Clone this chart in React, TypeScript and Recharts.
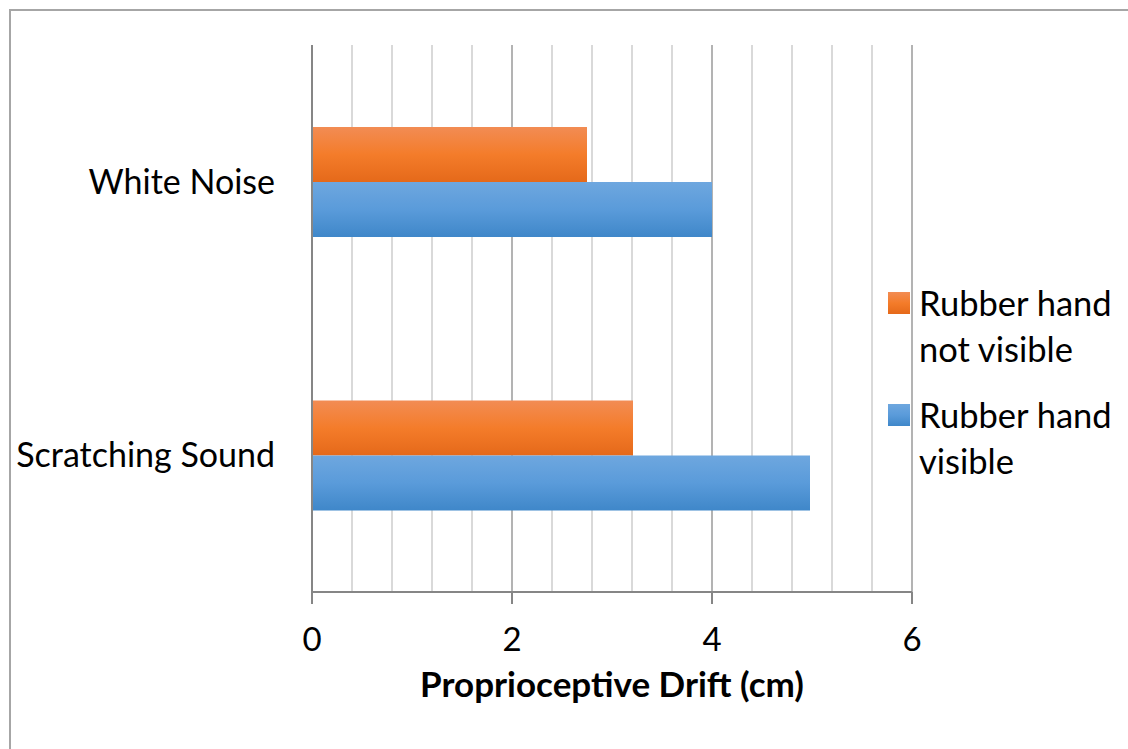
import React from 'react';
import {
  BarChart, Bar, XAxis, YAxis, CartesianGrid, Legend,
} from 'recharts';

const categories = ['White Noise', 'Scratching Sound'];
const notVisible = [2.75, 3.21];
const visible = [4.0, 4.98];
const majorTicks = [0, 2, 4, 6];
const minorTicks = [0, 0.4, 0.8, 1.2, 1.6, 2, 2.4, 2.8, 3.2, 3.6, 4, 4.4, 4.8, 5.2, 5.6, 6];
const seriesNames = ['Rubber hand not visible', 'Rubber hand visible'];

const data = categories.map((name, i) => ({
  name,
  notVisible: notVisible[i],
  visible: visible[i],
}));

const FONT = 'Lato, "Open Sans", sans-serif';
const AXIS = '#868686';

const legendSwatch: Record<string, string> = {
  notVisible: 'linear-gradient(#f28c54, #f47c2a 50%, #e5691a)',
  visible: 'linear-gradient(#6ea7df, #5a9bda 50%, #3f87c9)',
};

const isMajor = (v: number) => majorTicks.includes(v);

// grid: light minor lines, darker ones on the labelled values
function GridLine(props: any) {
  const { x1, x2, y1, y2, index } = props;
  const major = isMajor(minorTicks[index]);
  return <line x1={x1} x2={x2} y1={y1} y2={y2} stroke={major ? '#b3b3b3' : '#d9d9d9'} strokeWidth={2} />;
}

// tick mark and label only on the major values
function XTick(props: any) {
  const { x, y, payload } = props;
  if (!isMajor(payload.value)) return null;
  return (
    <g>
      <line x1={x} x2={x} y1={y - 36} y2={y - 24} stroke={AXIS} strokeWidth={2} />
      <text x={x} y={y} dy="0.71em" textAnchor="middle" fill="#000" fontSize={33} fontFamily={FONT}>
        {payload.value}
      </text>
    </g>
  );
}

function LegendBox({ payload }: any) {
  return (
    <div style={{ fontFamily: FONT, fontSize: 34.5, lineHeight: '46px', color: '#000' }}>
      {(payload || []).map((p: any) => (
        <div key={p.dataKey} style={{ display: 'flex', alignItems: 'flex-start', marginBottom: 20 }}>
          <div style={{ width: 22, height: 22, marginTop: 12, marginRight: 9, background: legendSwatch[p.dataKey], flex: 'none' }} />
          <div style={{ width: 205 }}>{p.value}</div>
        </div>
      ))}
    </div>
  );
}

export default function App() {
  return (
    <div style={{ position: 'relative', width: 1128, height: 749, overflow: 'hidden', background: '#fff' }}>
      <style>{'body{margin:0}'}</style>
      <div style={{ position: 'absolute', left: 9, top: 9, width: 1300, height: 900, border: '2px solid #a6a6a6' }} />
      <div style={{ position: 'absolute', left: 0, top: 0 }}>
        <BarChart
          width={1128}
          height={749}
          data={data}
          layout="vertical"
          margin={{ top: 45, right: 216, bottom: 47, left: 0 }}
          barSize={55}
          barGap={0}
        >
          <defs>
            <linearGradient id="gradOrange" x1="0" y1="0" x2="0" y2="1">
              <stop offset="0%" stopColor="#f28c54" />
              <stop offset="50%" stopColor="#f47c2a" />
              <stop offset="100%" stopColor="#e5691a" />
            </linearGradient>
            <linearGradient id="gradBlue" x1="0" y1="0" x2="0" y2="1">
              <stop offset="0%" stopColor="#6ea7df" />
              <stop offset="50%" stopColor="#5a9bda" />
              <stop offset="100%" stopColor="#3f87c9" />
            </linearGradient>
          </defs>
          <CartesianGrid horizontal={false} vertical={(p: any) => <GridLine {...p} />} />
          <XAxis
            type="number"
            domain={[0, 6]}
            ticks={minorTicks}
            interval={0}
            height={110}
            tickSize={12}
            tickMargin={24}
            axisLine={{ stroke: AXIS, strokeWidth: 2 }}
            tickLine={false}
            tick={<XTick />}
            label={{
              value: 'Proprioceptive Drift (cm)',
              position: 'insideBottom',
              offset: 5,
              style: { fill: '#000', fontSize: 35, fontWeight: 700, fontFamily: FONT },
            }}
          />
          <YAxis
            type="category"
            dataKey="name"
            width={312}
            tickSize={0}
            tickMargin={37}
            tickLine={false}
            axisLine={{ stroke: AXIS, strokeWidth: 2 }}
            tick={{ fill: '#000', fontSize: 34, fontFamily: FONT }}
          />
          <Legend
            layout="vertical"
            align="center"
            verticalAlign="middle"
            wrapperStyle={{ left: 888, top: 280, width: 240 }}
            content={<LegendBox />}
          />
          <Bar dataKey="notVisible" name={seriesNames[0]} fill="url(#gradOrange)" isAnimationActive={false} />
          <Bar dataKey="visible" name={seriesNames[1]} fill="url(#gradBlue)" isAnimationActive={false} />
        </BarChart>
      </div>
    </div>
  );
}
